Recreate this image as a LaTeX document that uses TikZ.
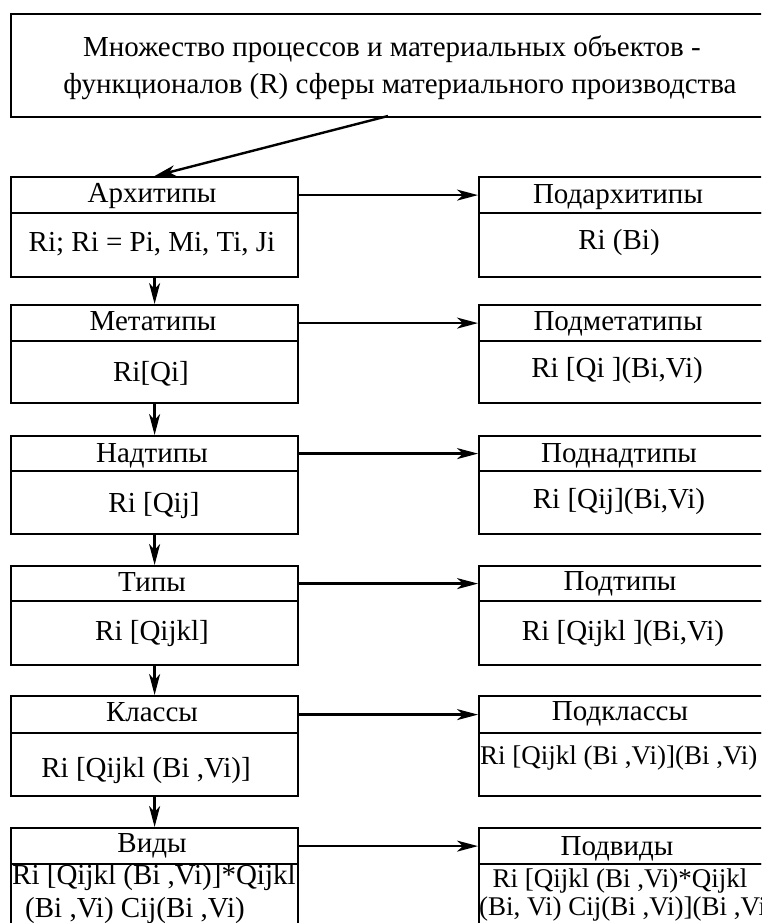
\documentclass[tikz,border=0pt]{standalone}
\usepackage{fontspec}
\setmainfont{Liberation Serif}
\usetikzlibrary{arrows.meta}
\tikzset{
  box/.style={draw, line width=2.2pt, minimum width=287pt, inner sep=0pt, anchor=north west},
  txt/.style={font=\fontsize{29}{37}\selectfont, inner sep=0pt, anchor=base},
  txtw/.style={txt, anchor=base west},
  small/.style={font=\fontsize{27}{34}\selectfont},
  arr/.style={line width=2.4pt, -{Stealth[length=21pt, width=11pt, inset=6pt]}}
}
\begin{document}
\begin{tikzpicture}[x=1pt, y=-1pt]
\clip (0,0) rectangle (761,923);
\fill[white] (0,0) rectangle (761,923);
% top box
\node[box, minimum width=776pt, minimum height=103pt] (top) at (10,13) {};
\node[txt] (top1) at (392,57) {Множество процессов и материальных объектов -};
\node[txt] (top2) at (400,94) {функционалов (R) сферы материального производства};
\coordinate (topout) at (388,116);
% left column boxes
\node[box, minimum height=36pt] (L1h) at (10,176) {};
\node[box, minimum height=64pt] (L1b) at (10,212) {};
\node[box, minimum height=36pt] (L2h) at (10,304) {};
\node[box, minimum height=62pt] (L2b) at (10,340) {};
\node[box, minimum height=35pt] (L3h) at (10,435) {};
\node[box, minimum height=63pt] (L3b) at (10,470) {};
\node[box, minimum height=35pt] (L4h) at (10,565) {};
\node[box, minimum height=64pt] (L4b) at (10,600) {};
\node[box, minimum height=37pt] (L5h) at (10,695) {};
\node[box, minimum height=63pt] (L5b) at (10,732) {};
\node[box, minimum height=36pt] (L6h) at (10,827) {};
\node[box, minimum height=100pt] (L6b) at (10,863) {};
% right column boxes
\node[box, minimum height=36pt] (R1h) at (478,176) {};
\node[box, minimum height=64pt] (R1b) at (478,212) {};
\node[box, minimum height=36pt] (R2h) at (478,304) {};
\node[box, minimum height=62pt] (R2b) at (478,340) {};
\node[box, minimum height=35pt] (R3h) at (478,435) {};
\node[box, minimum height=63pt] (R3b) at (478,470) {};
\node[box, minimum height=35pt] (R4h) at (478,565) {};
\node[box, minimum height=64pt] (R4b) at (478,600) {};
\node[box, minimum height=37pt] (R5h) at (478,695) {};
\node[box, minimum height=63pt] (R5b) at (478,732) {};
\node[box, minimum height=36pt] (R6h) at (478,827) {};
\node[box, minimum height=100pt] (R6b) at (478,863) {};
% left texts
\node[txt] (tL1h) at (152,202) {Архитипы};
\node[txt] (tL1b) at (152,251) {Ri; Ri = Pi, Mi, Ti, Ji};
\node[txt] (tL2h) at (153,330) {Метатипы};
\node[txt] (tL2b) at (151,381) {Ri[Qi]};
\node[txt] (tL3h) at (152,462) {Надтипы};
\node[txt] (tL3b) at (154,512) {Ri [Qij]};
\node[txt] (tL4h) at (152,591) {Типы};
\node[txt] (tL4b) at (152,640) {Ri [Qijkl]};
\node[txt] (tL5h) at (152,721) {Классы};
\node[txt] (tL5b) at (146,777) {Ri [Qijkl (Bi ,Vi)]};
\node[txt] (tL6h) at (152,852) {Виды};
\node[txtw] (tL6b1) at (12,884) {Ri [Qijkl (Bi ,Vi)]*Qijkl};
\node[txtw] (tL6b2) at (25,917) {(Bi ,Vi) Cij(Bi ,Vi)};
% right texts
\node[txt] (tR1h) at (618,203) {Подархитипы};
\node[txt] (tR1b) at (619,249) {Ri (Bi)};
\node[txt] (tR2h) at (618,330) {Подметатипы};
\node[txt] (tR2b) at (617,377) {Ri [Qi ](Bi,Vi)};
\node[txt] (tR3h) at (619,462) {Поднадтипы};
\node[txt] (tR3b) at (619,508) {Ri [Qij](Bi,Vi)};
\node[txt] (tR4h) at (620,590) {Подтипы};
\node[txt] (tR4b) at (623,640) {Ri [Qijkl ](Bi,Vi)};
\node[txt] (tR5h) at (620,720) {Подклассы};
\node[txtw, small] (tR5b) at (480,764) {Ri [Qijkl (Bi ,Vi)](Bi ,Vi)};
\node[txt] (tR6h) at (617,855) {Подвиды};
\node[txt, small] (tR6b1) at (620,887) {Ri [Qijkl (Bi ,Vi)*Qijkl};
\node[txtw, small] (tR6b2) at (479,915) {(Bi, Vi) Cij(Bi ,Vi)](Bi ,Vi)};
% connectors
\draw[arr] (topout) -- (L1h.north);
\draw[arr] (L1b.south) -- (L2h.north);
\draw[arr] (L2b.south) -- (L3h.north);
\draw[arr] (L3b.south) -- (L4h.north);
\draw[arr] (L4b.south) -- (L5h.north);
\draw[arr] (L5b.south) -- (L6h.north);
\draw[arr] (L1h.east) -- (R1h.west);
\draw[arr] (L2h.east) -- (R2h.west);
\draw[arr] (L3h.east) -- (R3h.west);
\draw[arr] (L4h.east) -- (R4h.west);
\draw[arr] (L5h.east) -- (R5h.west);
\draw[arr] (L6h.east) -- (R6h.west);
\end{tikzpicture}
\end{document}
